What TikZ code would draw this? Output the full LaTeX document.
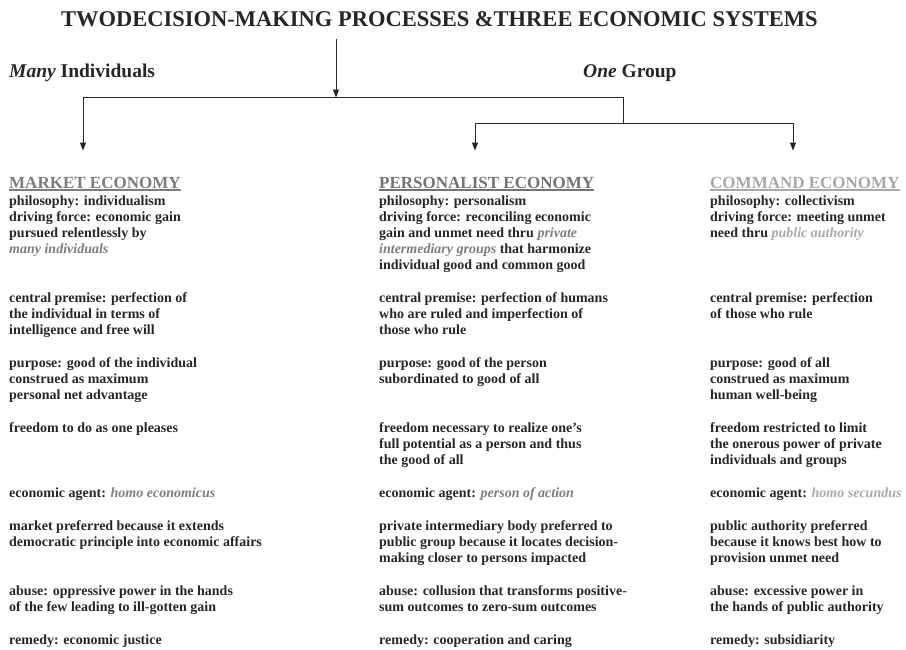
\documentclass[tikz,border=0pt]{standalone}
\usepackage{fontspec}
\setmainfont{Liberation Serif}
\usetikzlibrary{arrows.meta,positioning}
\definecolor{texto}{HTML}{262626}
\definecolor{grisA}{HTML}{7C7C7C}
\definecolor{grisP}{HTML}{737373}
\definecolor{grisB}{HTML}{A8A8A8}
\newcommand{\gr}[1]{{\itshape\color{grisA}#1}}
\newcommand{\grc}[1]{{\itshape\color{grisB}#1}}

\begin{document}
\begin{tikzpicture}[x=1pt, y=-1pt, node distance=1cm, auto,]
  % definicion de estilos
  % (bloque: el ancla base es la ultima linea del bloque)
  \tikzset{
    titulo/.style={
           anchor=base west,
           inner sep=0pt,
           font=\fontsize{22.5}{26}\selectfont\bfseries,
           text=texto},
    grupo/.style={
           anchor=base west,
           inner sep=0pt,
           font=\fontsize{19.5}{22}\selectfont\bfseries,
           text=texto},
    cabecera/.style={
           anchor=base west,
           inner sep=0pt,
           font=\fontsize{17}{20}\selectfont\bfseries},
    bloque/.style={
           anchor=base west,
           inner sep=0pt,
           align=left,
           font=\fontsize{14}{16}\selectfont\bfseries,
           text=texto},
    % estilo de lineas y flechas
    linea/.style={
           draw=texto,
           line width=0.9pt},
    arrow/.style={
           linea,
           -{Triangle[length=8pt,width=6pt]}},
    subrayado/.style={
           line width=1.4pt}
    }
  \useasboundingbox (0,0) rectangle (906,649);

  % titulo y grupos
  \node[titulo] (title) at (61,26) {TWODECISION-MAKING PROCESSES \&THREE ECONOMIC SYSTEMS};
  \node[grupo] (many) at (9,77) {\textit{Many} Individuals};
  \node[grupo] (one) at (583,77) {\textit{One} Group};

  % cabeceras
  \node[cabecera, text=grisA] (mkt) at (9,188) {MARKET ECONOMY};
  \node[cabecera, text=grisP] (per) at (379,188) {PERSONALIST ECONOMY};
  \node[cabecera, text=grisB] (cmd) at (710,188) {COMMAND ECONOMY};
  \draw[subrayado, grisA] ([yshift=-2pt]mkt.base west) -- ([yshift=-2pt]mkt.base east);
  \draw[subrayado, grisP] ([yshift=-2pt]per.base west) -- ([yshift=-2pt]per.base east);
  \draw[subrayado, grisB] ([yshift=-2pt]cmd.base west) -- ([yshift=-2pt]cmd.base east);

  % economia de mercado
  \node[bloque] (mkt-phil) at (9,253) {philosophy: individualism\\driving force: economic gain\\pursued relentlessly by\\\gr{many individuals}};
  \node[bloque] (mkt-prem) at (9,334) {central premise: perfection of\\the individual in terms of\\intelligence and free will};
  \node[bloque] (mkt-purp) at (9,399) {purpose: good of the individual\\construed as maximum\\personal net advantage};
  \node[bloque] (mkt-free) at (9,432) {freedom to do as one pleases};
  \node[bloque] (mkt-agent) at (9,497) {economic agent: \gr{homo economicus}};
  \node[bloque] (mkt-pref) at (9,546) {market preferred because it extends\\democratic principle into economic affairs};
  \node[bloque] (mkt-abuse) at (9,611) {abuse: oppressive power in the hands\\of the few leading to ill-gotten gain};
  \node[bloque] (mkt-rem) at (9,644) {remedy: economic justice};

  % economia personalista
  \node[bloque] (per-phil) at (379,269) {philosophy: personalism\\driving force: reconciling economic\\gain and unmet need thru \gr{private}\\\gr{intermediary groups} that harmonize\\individual good and common good};
  \node[bloque] (per-prem) at (379,334) {central premise: perfection of humans\\who are ruled and imperfection of\\those who rule};
  \node[bloque] (per-purp) at (379,383) {purpose: good of the person\\subordinated to good of all};
  \node[bloque] (per-free) at (379,464) {freedom necessary to realize one’s\\full potential as a person and thus\\the good of all};
  \node[bloque] (per-agent) at (379,497) {economic agent: \gr{person of action}};
  \node[bloque] (per-pref) at (379,562) {private intermediary body preferred to\\public group because it locates decision-\\making closer to persons impacted};
  \node[bloque] (per-abuse) at (379,611) {abuse: collusion that transforms positive-\\sum outcomes to zero-sum outcomes};
  \node[bloque] (per-rem) at (379,644) {remedy: cooperation and caring};

  % economia de mando
  \node[bloque] (cmd-phil) at (710,237) {philosophy: collectivism\\driving force: meeting unmet\\need thru \grc{public authority}};
  \node[bloque] (cmd-prem) at (710,318) {central premise: perfection\\of those who rule};
  \node[bloque] (cmd-purp) at (710,399) {purpose: good of all\\construed as maximum\\human well-being};
  \node[bloque] (cmd-free) at (710,464) {freedom restricted to limit\\the onerous power of private\\individuals and groups};
  \node[bloque] (cmd-agent) at (710,497) {economic agent: \grc{homo secundus}};
  \node[bloque] (cmd-pref) at (710,562) {public authority preferred\\because it knows best how to\\provision unmet need};
  \node[bloque] (cmd-abuse) at (710,611) {abuse: excessive power in\\the hands of public authority};
  \node[bloque] (cmd-rem) at (710,644) {remedy: subsidiarity};

  % Gráfico
  \coordinate (split) at (336,97.5);
  \coordinate (left) at (83,97.5);
  \coordinate (right) at (623,97.5);
  \coordinate (sub) at (623,123);
  \coordinate (subl) at (475,123);
  \coordinate (subr) at (793,123);

  \draw[arrow, shorten <=12pt] (title.south -| split) -- (split);
  \draw[linea] (left) -- (right) -- (sub);
  \draw[linea] (subl) -- (subr);
  \draw[arrow, shorten >=26pt] (left) -- (left |- mkt.north);
  \draw[arrow, shorten >=26pt] (subl) -- (subl |- per.north);
  \draw[arrow, shorten >=26pt] (subr) -- (subr |- cmd.north);
\end{tikzpicture}
\end{document}
